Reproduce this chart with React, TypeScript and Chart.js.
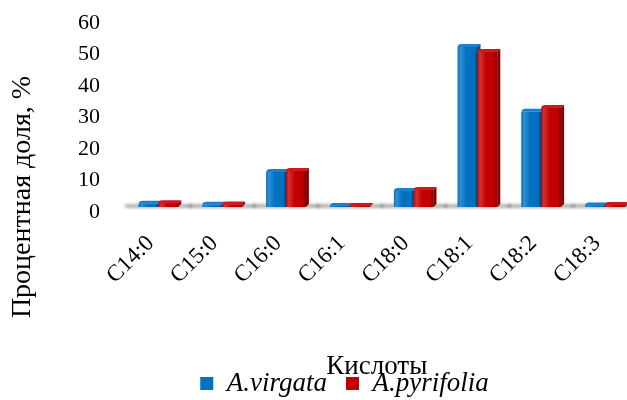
import React, { useEffect, useRef } from 'react';
import { Chart, registerables } from 'chart.js';

Chart.register(...registerables);

const categories = ['C14:0', 'C15:0', 'C16:0', 'C16:1', 'C18:0', 'C18:1', 'C18:2', 'C18:3'];
const virgata = [1.0, 0.7, 11.1, 0.3, 5.1, 50.8, 30.2, 0.5];
const pyrifolia = [1.2, 0.8, 11.4, 0.3, 5.4, 49.2, 31.4, 0.6];
const seriesNames = ['A.virgata', 'A.pyrifolia'];
const yTickValues = [0, 10, 20, 30, 40, 50, 60];
const yTitle = 'Процентная доля, %';
const xTitle = 'Кислоты';

const FONT = "'Times New Roman', 'Liberation Serif', serif";
const PAD_LEFT = 62;
const PLOT_LEFT = 126.6;

const palettes = [
  { base: '#0070C0', light: '#2F8FD8', dark: '#00406E', top: '#1A80CC', side: '#00508A' },
  { base: '#C00000', light: '#D83030', dark: '#6E0000', top: '#CC1A1A', side: '#8A0000' },
];

const floorPlugin = {
  id: 'floor3d',
  beforeDatasetsDraw(chart: any) {
    const ctx = chart.ctx;
    const area = chart.chartArea;
    const m0 = chart.getDatasetMeta(0);
    const m1 = chart.getDatasetMeta(1);
    if (!m0.data.length) return;
    const base = m0.data[0].getProps(['base'], true).base;
    ctx.save();
    ctx.filter = 'blur(1.5px)';
    ctx.fillStyle = 'rgba(0,0,0,0.10)';
    ctx.fillRect(area.left, base - 3, area.right - area.left, 4);
    ctx.fillStyle = 'rgba(0,0,0,0.22)';
    m0.data.forEach((el: any, i: number) => {
      const a = el.getProps(['x', 'width'], true);
      const b = m1.data[i].getProps(['x', 'width'], true);
      const l = a.x - a.width / 2 - 14;
      const r = b.x + b.width / 2 + 14;
      ctx.fillRect(l, base - 3, r - l, 4);
    });
    ctx.restore();
  },
};

const bars3dPlugin = {
  id: 'bars3d',
  afterDatasetsDraw(chart: any) {
    const ctx = chart.ctx;
    ctx.save();
    chart.data.datasets.forEach((_ds: any, di: number) => {
      const meta = chart.getDatasetMeta(di);
      const pal = palettes[di];
      meta.data.forEach((el: any) => {
        const { x, y, base, width } = el.getProps(['x', 'y', 'base', 'width'], true);
        const l = x - width / 2;
        const r = x + width / 2;
        const dx = 3;
        const dy = 3;
        ctx.fillStyle = pal.side;
        ctx.beginPath();
        ctx.moveTo(r, y);
        ctx.lineTo(r + dx, y - dy);
        ctx.lineTo(r + dx, base - dy);
        ctx.lineTo(r, base);
        ctx.closePath();
        ctx.fill();
        const g = ctx.createLinearGradient(l, 0, r, 0);
        g.addColorStop(0, pal.base);
        g.addColorStop(0.12, pal.light);
        g.addColorStop(0.45, pal.base);
        g.addColorStop(0.85, pal.base);
        g.addColorStop(1, pal.dark);
        ctx.fillStyle = g;
        ctx.fillRect(l, y, width, base - y);
        ctx.fillStyle = pal.top;
        ctx.beginPath();
        ctx.moveTo(l, y);
        ctx.quadraticCurveTo(l, y - dy, l + dx + 1, y - dy);
        ctx.lineTo(r + dx - 1, y - dy);
        ctx.quadraticCurveTo(r + dx, y - dy, r + dx, y - dy + 1);
        ctx.lineTo(r, y);
        ctx.closePath();
        ctx.fill();
      });
    });
    ctx.restore();
  },
};

const yTitlePlugin = {
  id: 'yTitleText',
  afterDraw(chart: any) {
    const ctx = chart.ctx;
    ctx.save();
    ctx.translate(23, 197);
    ctx.rotate(-Math.PI / 2);
    ctx.font = `28px ${FONT}`;
    ctx.fillStyle = '#000';
    ctx.textAlign = 'center';
    ctx.textBaseline = 'middle';
    ctx.fillText(yTitle, 0, 0);
    ctx.restore();
  },
};

export default function App() {
  const ref = useRef<HTMLCanvasElement | null>(null);

  useEffect(() => {
    document.body.style.margin = '0';
    document.body.style.overflow = 'hidden';
    const canvas = ref.current;
    if (!canvas) return;
    const chart = new Chart(canvas, {
      type: 'bar',
      data: {
        datasets: [
          {
            label: seriesNames[0],
            data: virgata.map((v, i) => ({ x: i, y: v })),
            backgroundColor: palettes[0].base,
            borderWidth: 0,
          },
          {
            label: seriesNames[1],
            data: pyrifolia.map((v, i) => ({ x: i, y: v })),
            backgroundColor: palettes[1].base,
            borderWidth: 0,
          },
        ],
      } as any,
      options: {
        animation: false,
        responsive: false,
        maintainAspectRatio: false,
        events: [],
        layout: { padding: { left: PAD_LEFT, right: 0, top: 18, bottom: -7 } },
        datasets: { bar: { categoryPercentage: 0.62, barPercentage: 1.0 } },
        plugins: {
          tooltip: { enabled: false },
          legend: {
            position: 'bottom',
            labels: {
              boxWidth: 13,
              boxHeight: 13,
              padding: 19,
              color: '#000',
              font: { family: FONT, size: 27, style: 'italic' },
            },
          },
        },
        scales: {
          x: {
            type: 'linear',
            offset: false,
            min: -0.5,
            max: 7.343,
            grid: { display: false, drawTicks: false, offset: false },
            border: { display: false },
            afterBuildTicks: (scale: any) => {
              scale.ticks = categories.map((_c, i) => ({ value: i }));
            },
            afterFit: (scale: any) => {
              const lh = scale.chart.legend ? scale.chart.legend.height : 56;
              scale.height = 407 - lh - 207;
              scale.paddingLeft = 0;
              scale.paddingRight = 0;
            },
            ticks: {
              autoSkip: false,
              maxRotation: 45,
              minRotation: 45,
              padding: 23,
              labelOffset: -8,
              color: '#000',
              font: { family: FONT, size: 23 },
              callback: (v: any) => categories[v as number] ?? '',
            },
            title: {
              display: true,
              text: xTitle,
              color: '#000',
              font: { family: FONT, size: 27, lineHeight: 1.2 },
              padding: { top: 0, bottom: -32 },
            },
          },
          y: {
            min: 0,
            max: 60,
            grid: { display: false, drawTicks: false },
            border: { display: false },
            afterBuildTicks: (scale: any) => {
              scale.ticks = yTickValues.map((v) => ({ value: v }));
            },
            afterFit: (scale: any) => {
              scale.width = PLOT_LEFT - PAD_LEFT;
              scale.paddingTop = 0;
              scale.paddingBottom = 0;
            },
            ticks: {
              autoSkip: false,
              padding: 26.6,
              labelOffset: 5,
              color: '#000',
              font: { family: FONT, size: 22 },
            },
          },
        },
      } as any,
      plugins: [floorPlugin, bars3dPlugin, yTitlePlugin],
    });
    return () => chart.destroy();
  }, []);

  return (
    <div style={{ width: 627, height: 400, position: 'relative', background: '#fff' }}>
      <canvas ref={ref} width={627} height={400} />
    </div>
  );
}
